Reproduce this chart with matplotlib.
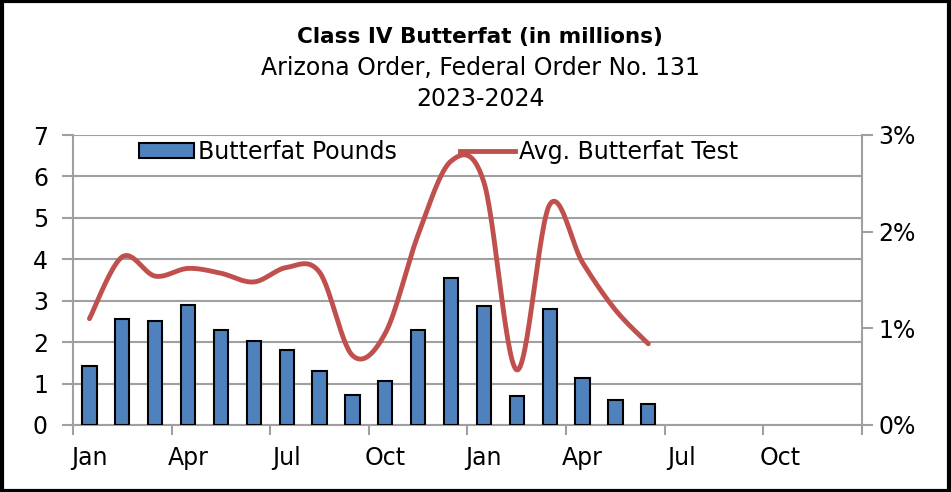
import numpy as np
import matplotlib.pyplot as plt
from matplotlib.patches import Rectangle
from matplotlib.lines import Line2D

months = ["Jan", "Feb", "Mar", "Apr", "May", "Jun",
          "Jul", "Aug", "Sep", "Oct", "Nov", "Dec"] * 2
pounds = [1.42, 2.56, 2.52, 2.90, 2.30, 2.03, 1.80, 1.31, 0.72, 1.07, 2.29, 3.56,
          2.88, 0.69, 2.81, 1.13, 0.61, 0.50]
test = [1.10, 1.74, 1.54, 1.62, 1.57, 1.48, 1.63, 1.58, 0.72, 0.95, 1.97, 2.73,
        2.51, 0.57, 2.28, 1.68, 1.19, 0.84]


def smooth(xs, ys, n=30):
    # Excel-like smoothed line: cubic Bezier through the points
    xs = np.asarray(xs, float)
    ys = np.asarray(ys, float)
    px = np.concatenate([[xs[0]], xs, [xs[-1]]])
    py = np.concatenate([[ys[0]], ys, [ys[-1]]])
    outx, outy = [], []
    t = np.linspace(0, 1, n)
    for i in range(1, len(px) - 2):
        p0 = np.array([px[i], py[i]])
        p3 = np.array([px[i + 1], py[i + 1]])
        c1 = p0 + (np.array([px[i + 1], py[i + 1]]) - np.array([px[i - 1], py[i - 1]])) / 6
        c2 = p3 - (np.array([px[i + 2], py[i + 2]]) - np.array([px[i], py[i]])) / 6
        b = (np.outer((1 - t) ** 3, p0) + np.outer(3 * (1 - t) ** 2 * t, c1)
             + np.outer(3 * (1 - t) * t ** 2, c2) + np.outer(t ** 3, p3))
        outx.extend(b[:, 0])
        outy.extend(b[:, 1])
    return outx, outy


plt.rcParams['font.family'] = ['DejaVu Sans']
grid_c = "#a0a0a0"
fs = 17

fig = plt.figure(figsize=(9.51, 4.92), dpi=100)
ax = fig.add_axes([73 / 951, 67 / 492, 789 / 951, 290 / 492])

x = np.arange(len(pounds))
ax.bar(x, pounds, width=0.43, color="#4F81BD", edgecolor="black", linewidth=1.5, zorder=3)
ax.set_xlim(-0.5, 23.5)
ax.set_ylim(0, 7)
ax.set_yticks(range(8))
ax.grid(axis="y", color=grid_c, linewidth=1.5, zorder=0)
ax.tick_params(axis="y", labelsize=fs, length=8, width=1.5, color=grid_c, pad=10)

ax.set_xticks(np.arange(-0.5, 24, 3))
ax.set_xticklabels([])
ax.tick_params(axis="x", which="major", length=7, width=1.5, color=grid_c)
ax.set_xticks(np.arange(0, 24, 3), minor=True)
ax.set_xticklabels(months[::3], minor=True)
ax.tick_params(axis="x", which="minor", length=0, labelsize=fs, pad=15)

for s in ["top", "right"]:
    ax.spines[s].set_visible(False)
for s in ["left", "bottom"]:
    ax.spines[s].set_color(grid_c)
    ax.spines[s].set_linewidth(1.5)

ax2 = ax.twinx()
sx, sy = smooth(x, test)
ax2.plot(sx, sy, color="#C0504D", linewidth=3.5, solid_capstyle="round", zorder=4)
ax2.set_ylim(0, 3)
ax2.set_yticks([0, 1, 2, 3])
ax2.set_yticklabels(["0%", "1%", "2%", "3%"])
ax2.tick_params(axis="y", labelsize=fs, length=8, width=1.5, color=grid_c, pad=4)
for s in ["top", "left", "bottom"]:
    ax2.spines[s].set_visible(False)
ax2.spines["right"].set_color(grid_c)
ax2.spines["right"].set_linewidth(1.5)

handles = [Rectangle((0, 0), 1, 1, facecolor="#4F81BD", edgecolor="black", linewidth=1.5),
           Line2D([0], [0], color="#C0504D", linewidth=3.5)]
ax2.legend(handles, ["Butterfat Pounds", "Avg. Butterfat Test"], ncol=2, frameon=False,
           loc="center left", bbox_to_anchor=(0.084, 0.941), borderaxespad=0, borderpad=0,
           fontsize=fs, handlelength=2.3, handleheight=0.6, handletextpad=0.17,
           columnspacing=2.7)

fig.text(0.505, 0.925, "Class IV Butterfat (in millions)", ha="center", va="center",
         fontsize=15.5, fontweight="bold")
fig.text(0.505, 0.862, "Arizona Order, Federal Order No. 131", ha="center", va="center",
         fontsize=17)
fig.text(0.505, 0.799, "2023-2024", ha="center", va="center", fontsize=17)

fig.patches.append(Rectangle((0.002, 0.003), 0.996, 0.994, transform=fig.transFigure,
                             fill=False, edgecolor="black", linewidth=3))

fig.savefig("out.png", dpi=100)
